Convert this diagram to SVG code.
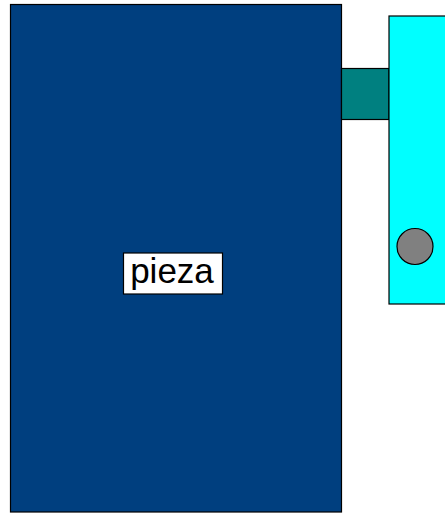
<svg xmlns="http://www.w3.org/2000/svg" width="445" height="515" viewBox="0 0 445 515">
<style>
.s{stroke:#000;stroke-width:1.2}
.t{font-family:"Liberation Sans",Arial,sans-serif;font-size:35px;fill:#000}
</style>
<rect width="445" height="515" fill="#fff"/>
<g id="pieza">
<rect class="s" x="10.5" y="4.5" width="331" height="507.5" fill="#003F7F"/>
<rect class="s" x="123.5" y="253" width="99" height="41" fill="#fff"/>
<text class="t" x="172" y="283" text-anchor="middle">pieza</text>
</g>
<g id="conector">
<rect class="s" x="341.5" y="68.5" width="47.5" height="51" fill="#008080"/>
</g>
<g id="bloque">
<rect class="s" x="389" y="16" width="60" height="288" fill="#00FFFF"/>
<circle class="s" cx="415" cy="246.5" r="18" fill="#808080"/>
</g>
<g id="connectors"/>
</svg>
